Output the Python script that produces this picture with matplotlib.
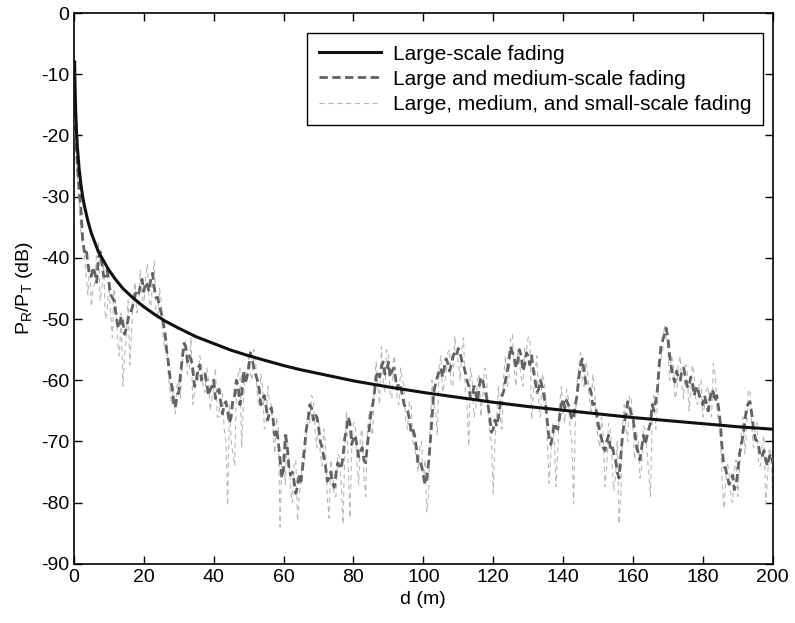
import numpy as np
import matplotlib
matplotlib.use("Agg")
import matplotlib.pyplot as plt

plt.rcParams['font.family'] = ['Liberation Sans', 'DejaVu Sans']
plt.rcParams['mathtext.default'] = 'regular'
plt.rcParams['axes.unicode_minus'] = False

# large-scale path loss
d_large = [0.2, 0.3, 0.5, 0.75, 1, 1.5, 2, 2.5, 3, 4, 5, 6, 7, 8, 9, 10, 12, 14, 17, 20,
           23, 26, 30, 35, 40, 45, 50, 55, 60, 65, 70, 75, 80, 90, 100, 110, 120, 130,
           140, 150, 160, 170, 180, 190, 200]
p_large = [-8, -11.5, -16, -19.5, -22, -25.5, -28, -30, -31.5, -34, -36, -37.5, -39, -40,
           -41, -42, -43.6, -45, -46.6, -48, -49.2, -50.3, -51.5, -52.9, -54, -55.1, -56,
           -56.8, -57.6, -58.3, -58.9, -59.5, -60.1, -61.1, -62, -62.8, -63.6, -64.3,
           -64.9, -65.5, -66.1, -66.6, -67.1, -67.6, -68]

# large + medium-scale: values at d = 0.2, 0.5, then whole metres 1..200
p_medium_start = [-15, -20]
p_medium_int = [
    -25, -32, -39, -41, -43, -42.5, -40, -41, -43, -44,
    -46.5, -49, -51.5, -50.5, -51.5, -49, -47.5, -45.5, -44.5, -45.5,
    -44.5, -43.5, -45, -46.5, -49, -52, -57, -61, -64.5, -62,
    -56.5, -54.5, -56, -58, -60.5, -57.5, -59, -60.5, -61.5, -60,
    -62, -63.5, -64, -65, -66, -62.5, -61, -62.5, -60.5, -58,
    -56.5, -59, -61.5, -63, -64.3, -65, -66.3, -68, -73, -74.5,
    -70.5, -75.5, -76.5, -77.4, -76.5, -71, -66.5, -64.5, -65.5, -67.5,
    -71, -74, -76, -76.8, -75.3, -74, -72.5, -68, -67, -69.5,
    -70.8, -71.8, -73, -70.5, -65.5, -62, -58.5, -57.8, -59, -57,
    -58.5, -59.5, -60.5, -62.5, -64.5, -66.3, -68, -71, -73.2, -75.5,
    -76, -70, -62, -59.5, -58, -58, -57.2, -57.5, -55.5, -54.8,
    -56.8, -58.7, -61, -62.5, -62.2, -61, -60, -62.5, -66, -68,
    -67.5, -64, -61.8, -58.8, -54.5, -56.2, -57, -56, -57.5, -56,
    -56, -60, -61.5, -61, -64, -69.5, -69, -67.8, -66, -63,
    -63.3, -65, -65.8, -62.5, -57.5, -58.5, -60.8, -62, -63.8, -67,
    -69.5, -71.5, -69, -70.5, -73, -76, -69, -65.5, -64.3, -66,
    -70.5, -73, -69, -69.2, -67, -65, -61.5, -54.5, -52.5, -53,
    -58, -60.3, -59.7, -58.5, -59.5, -61.2, -60.3, -61.5, -62.5, -64,
    -63.8, -63.3, -62, -62.5, -67, -74, -75.7, -76.5, -77.9, -75,
    -70.5, -67, -63.8, -65.5, -69.5, -71, -72.5, -73, -72.5, -73.5,
]
# half metres 1.5..199.5
p_medium_half = [
    -29, -37, -38.5, -43, -41.5, -44, -39, -43, -42,
    -46, -47, -51, -49.5, -52.5, -50, -48.5, -46, -46, -43.5,
    -44, -45.5, -42.5, -46.5, -48, -50.5, -55, -59.5, -63.5, -62.5,
    -59, -54, -57, -56.5, -61, -58, -60, -59, -62.5, -61,
    -63, -61.5, -65.5, -63.5, -67, -63, -60, -64, -58.5, -59.5,
    -55.5, -58, -60, -64, -62.5, -66.5, -64.5, -69, -70, -76,
    -69, -74, -75, -78.5, -75.5, -74, -68, -64, -66.5, -66,
    -70, -72.5, -76.5, -75, -77.5, -73.5, -74.5, -69.5, -66, -70.5,
    -69, -72.5, -71, -73.5, -68, -64, -59.5, -59.5, -57, -58.5,
    -59.5, -58, -61.5, -61, -64, -65, -68.5, -69, -73.5, -74,
    -77, -73.5, -66, -60.5, -58.5, -59.5, -56.5, -58.5, -56, -56,
    -55.5, -57.5, -60, -63, -61, -63.5, -59.5, -61.5, -64, -68.5,
    -66.5, -66, -62.5, -60, -56.5, -55.5, -58, -55, -58.5, -55.5,
    -57.5, -58.5, -62, -60, -62.5, -67, -70.5, -67, -68, -64,
    -64.5, -64, -66.5, -64, -59.5, -56.5, -60.5, -61, -64, -65,
    -68.5, -71, -70, -71, -72, -75, -72.5, -67, -63.5, -65.5,
    -68.5, -72, -71, -70.5, -68, -64, -63.5, -57.5, -53.5, -51.5,
    -56, -59.5, -58.5, -60, -58, -61, -59.5, -62.5, -61, -63,
    -62.5, -65, -61.5, -63.5, -64.5, -71, -74.5, -77, -75.5, -77,
    -72, -69, -64.5, -63.5, -68, -70, -72.5, -71.5, -74, -72,
]

# large + medium + small-scale, same layout
p_small_start = [-12, -22]
p_small_int = [
    -27, -36, -40, -46, -48, -44, -37.5, -45, -50, -44,
    -53, -48, -56, -61, -53, -57.5, -46, -49, -42, -48,
    -41, -48, -40.5, -50, -47, -55, -59, -64, -65.5, -60,
    -57, -53.5, -58.5, -64, -59, -56, -61, -58, -65, -61,
    -66, -61.5, -68, -80.5, -70, -74, -59, -71, -58.5, -55.5,
    -60, -57, -64, -61, -67, -63.5, -69, -66, -84, -72,
    -69, -78, -74, -83, -76, -73, -65, -62.5, -68, -66,
    -74, -70, -82.5, -75, -79, -72.5, -83.5, -65, -82.5, -67,
    -73.5, -69, -76, -68, -68, -60, -61, -54.5, -62, -55.5,
    -63, -57.5, -64, -60, -67, -63.5, -70, -73, -71, -77,
    -81.5, -67, -64, -69, -56, -60.5, -55.5, -61, -52.8, -57,
    -55, -61.5, -70.8, -60, -64.5, -59, -62.5, -58.5, -69, -78.5,
    -65.5, -66, -59.5, -61, -53, -58, -55, -59.5, -54.5, -53,
    -66.5, -58.5, -63.5, -59, -62.5, -76.8, -67, -77.4, -64, -65.5,
    -61.5, -68, -80.2, -60.5, -55.5, -61, -58.5, -65, -61.5, -69.5,
    -66, -77.4, -67, -73, -76, -83.5, -67.5, -68, -62.5, -68,
    -68.5, -76, -67.5, -71.5, -79, -62.5, -64, -56.5, -51, -55,
    -56, -63, -57.5, -61, -57.5, -65, -57.5, -63.5, -60.5, -66,
    -61.5, -65.5, -57.2, -64.5, -69, -81, -73.5, -79, -75, -79,
    -68.5, -72, -61.5, -67.5, -67.5, -74, -70.5, -80.2, -71, -79,
]
p_small_half = [
    -31, -38, -43, -41, -45, -39, -47, -41, -49,
    -49, -45, -54, -49, -56, -47, -52, -44, -48, -46,
    -43, -47, -44, -49, -45, -53, -53, -62, -61, -61,
    -63, -55, -59, -53, -62, -60, -57, -62, -60, -63,
    -58, -66, -62, -70, -64, -72, -62, -58, -64, -60,
    -59, -55, -63, -59, -68, -61, -64, -72, -68, -73,
    -77, -72, -80, -73, -79, -72, -69, -67, -63, -71,
    -72, -68, -79, -73, -79, -72, -77, -72, -74, -71,
    -67, -77, -68, -79, -65, -69, -57, -64, -60, -55,
    -62, -56, -63, -58, -61, -68, -64, -71, -75, -70,
    -73, -79, -60, -65, -58, -62, -59, -55, -61, -56,
    -60, -53, -64, -58, -66, -60, -66, -58, -64, -70,
    -70, -61, -68, -56, -60, -52.5, -61, -57, -61, -55,
    -53, -62, -56, -66, -60, -70, -72, -70, -71, -61,
    -67, -63, -70, -67, -58, -60, -57, -63, -59, -67,
    -71, -69, -74, -68, -78, -70, -79, -64, -70, -63,
    -73, -70, -74, -68, -75, -66, -68, -59, -55, -53,
    -60, -57, -62, -56, -63, -58, -62, -59, -64, -60,
    -64, -61, -66, -59, -67, -76, -77, -75, -80, -73,
    -74, -66, -68, -62, -71, -67, -74, -69, -76, -72,
]


def merge(start, whole, half):
    out = list(start)
    for i in range(len(half)):
        out += [whole[i], half[i]]
    out.append(whole[-1])
    return out


d_fade = [0.2, 0.5] + list(np.arange(1, 200.01, 0.5))
p_medium = merge(p_medium_start, p_medium_int, p_medium_half)
p_small = merge(p_small_start, p_small_int, p_small_half)

fig = plt.figure(figsize=(7.95, 6.23), dpi=100)
ax = fig.add_axes([0.093, 0.095, 0.879, 0.884])

ax.plot(d_fade, p_small, color='#b8b8b8', lw=0.8, dashes=(4.5, 3.5), zorder=2,
        label='Large, medium, and small-scale fading')
ax.plot(d_fade, p_medium, color='#626262', lw=2.0, dashes=(3, 1.6), zorder=3,
        label='Large and medium-scale fading')
ax.plot(d_large, p_large, color='#111111', lw=2.2, zorder=4, label='Large-scale fading')

ax.set_xlim(0, 200)
ax.set_ylim(-90, 0)
ax.set_xticks(range(0, 201, 20))
ax.set_yticks(range(-90, 1, 10))
ax.tick_params(direction='in', top=True, right=True, length=6, width=1, labelsize=14)
for s in ax.spines.values():
    s.set_linewidth(1.2)

ax.set_xlabel('d (m)', fontsize=14)
ax.set_ylabel('P$_R$/P$_T$ (dB)', fontsize=14)

h, l = ax.get_legend_handles_labels()
leg = ax.legend(h[::-1], l[::-1], loc='upper right', bbox_to_anchor=(0.9857, 0.9637),
                borderaxespad=0, fontsize=15, fancybox=False, edgecolor='black',
                framealpha=1, handlelength=3.0, handletextpad=0.55, labelspacing=0.3,
                borderpad=0.55)
leg.get_frame().set_linewidth(1.0)

fig.savefig('out.png', dpi=100)
